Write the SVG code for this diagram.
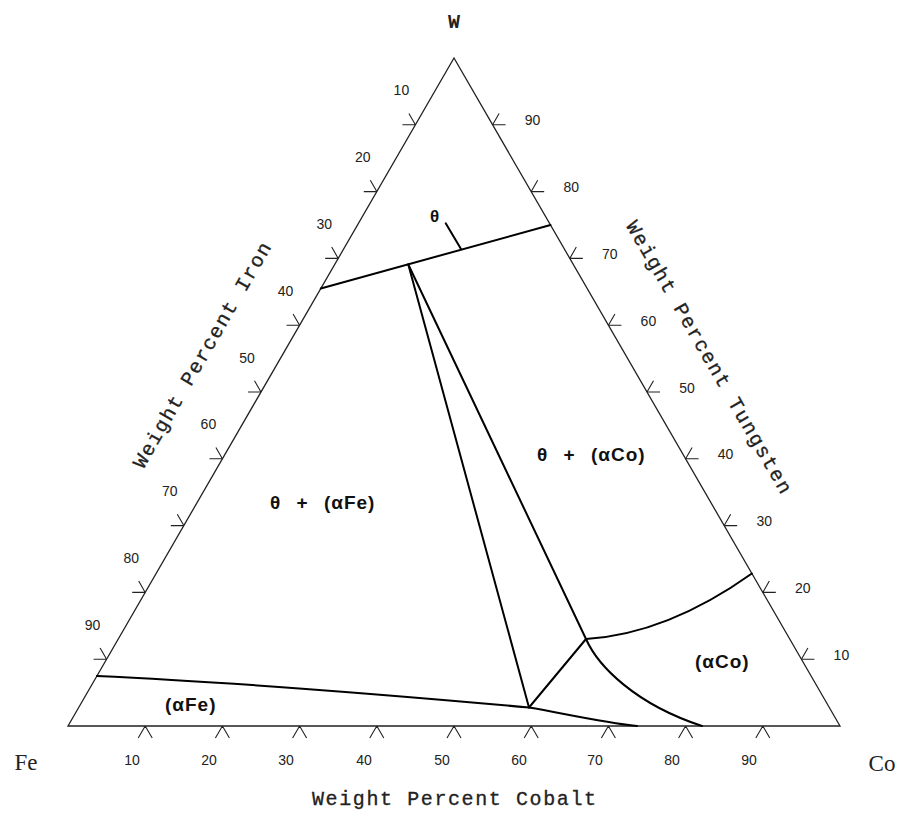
<svg xmlns="http://www.w3.org/2000/svg" width="899" height="816" viewBox="0 0 899 816">
<style>
.frame{fill:none;stroke:#222;stroke-width:1.3;stroke-linejoin:miter}
.tick{fill:none;stroke:#222;stroke-width:1.1}
.bd{fill:none;stroke:#000;stroke-width:2;stroke-linecap:round;stroke-linejoin:round}
.num{font-family:"Liberation Sans",Arial,sans-serif;font-size:14px;fill:#222;text-anchor:middle}
.title{font-family:"Liberation Mono","Courier New",monospace;font-size:20px;letter-spacing:1.6px;fill:#222;stroke:#222;stroke-width:0.3;text-anchor:middle}
.corner{font-family:"Liberation Serif","Times New Roman",serif;font-size:23px;fill:#222;text-anchor:middle}
.ph{font-family:"Liberation Sans",Arial,sans-serif;font-size:19px;font-weight:bold;letter-spacing:1px;word-spacing:9px;fill:#111}
</style>
<rect width="899" height="816" fill="#fff"/>
<g id="triangle">
<polygon class="frame" points="454,58 840,726 68,726"/>
</g>
<g id="ticks" class="tick">
<path d="M415.4,124.8h-13M415.4,124.8l-6.5,-11.3M376.8,191.6h-13M376.8,191.6l-6.5,-11.3M338.2,258.4h-13M338.2,258.4l-6.5,-11.3M299.6,325.2h-13M299.6,325.2l-6.5,-11.3M261,392h-13M261,392l-6.5,-11.3M222.4,458.8h-13M222.4,458.8l-6.5,-11.3M183.8,525.6h-13M183.8,525.6l-6.5,-11.3M145.2,592.4h-13M145.2,592.4l-6.5,-11.3M106.6,659.2h-13M106.6,659.2l-6.5,-11.3"/>
<path d="M801.4,659.2h13M801.4,659.2l6.5,-11.3M762.8,592.4h13M762.8,592.4l6.5,-11.3M724.2,525.6h13M724.2,525.6l6.5,-11.3M685.6,458.8h13M685.6,458.8l6.5,-11.3M647,392h13M647,392l6.5,-11.3M608.4,325.2h13M608.4,325.2l6.5,-11.3M569.8,258.4h13M569.8,258.4l6.5,-11.3M531.2,191.6h13M531.2,191.6l6.5,-11.3M492.6,124.8h13M492.6,124.8l6.5,-11.3"/>
<path d="M145.2,726l-7,12M145.2,726l7,12M222.4,726l-7,12M222.4,726l7,12M299.6,726l-7,12M299.6,726l7,12M376.8,726l-7,12M376.8,726l7,12M454,726l-7,12M454,726l7,12M531.2,726l-7,12M531.2,726l7,12M608.4,726l-7,12M608.4,726l7,12M685.6,726l-7,12M685.6,726l7,12M762.8,726l-7,12M762.8,726l7,12"/>
</g>
<g id="tick-labels" class="num">
<text x="401.4" y="95.3">10</text>
<text x="362.8" y="162.1">20</text>
<text x="324.2" y="228.9">30</text>
<text x="285.6" y="295.7">40</text>
<text x="247" y="362.5">50</text>
<text x="208.4" y="429.3">60</text>
<text x="169.8" y="496.1">70</text>
<text x="131.2" y="562.9">80</text>
<text x="92.6" y="629.7">90</text>
<text x="841.4" y="659.7">10</text>
<text x="802.8" y="592.9">20</text>
<text x="764.2" y="526.1">30</text>
<text x="725.6" y="459.3">40</text>
<text x="687" y="392.5">50</text>
<text x="648.4" y="325.7">60</text>
<text x="609.8" y="258.9">70</text>
<text x="571.2" y="192.1">80</text>
<text x="532.6" y="125.3">90</text>
<text x="132" y="765">10</text>
<text x="209" y="765">20</text>
<text x="286" y="765">30</text>
<text x="364" y="765">40</text>
<text x="442" y="765">50</text>
<text x="519" y="765">60</text>
<text x="595" y="765">70</text>
<text x="672" y="765">80</text>
<text x="749" y="765">90</text>
</g>
<g id="axis-titles">
<text class="title" transform="translate(202,355) rotate(-60)" x="0.8" y="6.5">Weight Percent Iron</text>
<text class="title" transform="translate(709,357) rotate(60)" x="0.8" y="6.5">Weight Percent Tungsten</text>
<text class="title" x="454.8" y="805">Weight Percent Cobalt</text>
</g>
<g id="corners">
<text id="corner-W" x="454" y="28" style="font-family:'Liberation Mono','Courier New',monospace;font-size:20px;font-weight:bold;fill:#222;text-anchor:middle">W</text>
<text id="corner-Fe" class="corner" x="26" y="770">Fe</text>
<text id="corner-Co" class="corner" x="882" y="771">Co</text>
</g>
<g id="connectors">
<path id="theta-line" class="bd" d="M320.8,288.5L550.5,225"/>
<path id="theta-leader" class="bd" d="M445.7,223.3L461,249"/>
<path id="tie-left" class="bd" d="M408.3,264.5L529,707.5"/>
<path id="tie-right" class="bd" d="M408.3,264.5L586,639"/>
<path id="tie-short" class="bd" d="M586,639L529,707.5"/>
<path id="co-boundary" class="bd" d="M586,639Q667,634 751.9,573.5"/>
<path id="co-solvus" class="bd" d="M586,639C598,666 635,704 702,726"/>
<path id="fe-boundary" class="bd" d="M96.9,676Q261,683.4 529,707.5C560,712.5 600,722 637,726"/>
</g>
<g id="phase-labels" class="ph">
<text id="lbl-theta" x="435" y="222" style="text-anchor:middle;font-size:17px">θ</text>
<text id="lbl-theta-aFe" x="270" y="509">θ + (αFe)</text>
<text id="lbl-theta-aCo" x="537" y="461">θ + (αCo)</text>
<text id="lbl-aCo" x="695" y="668">(αCo)</text>
<text id="lbl-aFe" x="165" y="711">(αFe)</text>
</g>
</svg>
